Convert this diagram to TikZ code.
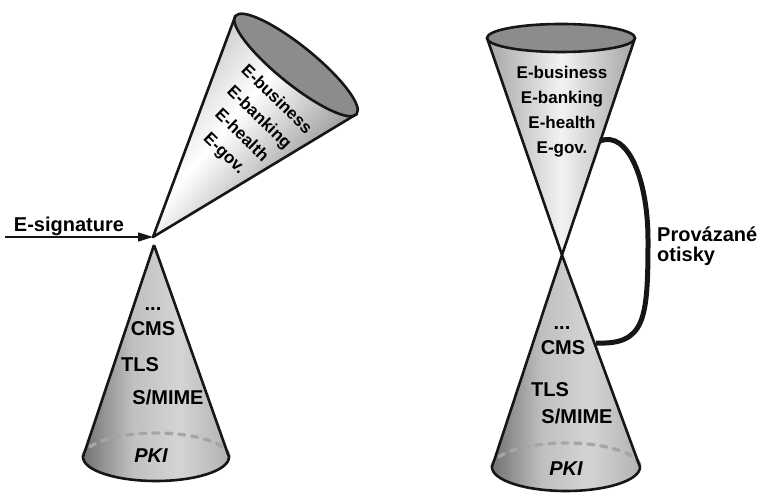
\documentclass[tikz,border=0pt]{standalone}
\usepackage{fontspec}
\setmainfont{Liberation Sans}
\usetikzlibrary{calc,arrows.meta}
\definecolor{inkblack}{RGB}{22,22,22}
\definecolor{rimgray}{RGB}{140,140,140}
\definecolor{backgray}{RGB}{165,165,165}
\definecolor{gdark}{RGB}{115,115,115}
\definecolor{gmid}{RGB}{192,192,192}
\definecolor{glite}{RGB}{212,212,212}
\definecolor{gside}{RGB}{178,178,178}
\definecolor{gpale}{RGB}{165,165,165}
\pgfdeclarehorizontalshading{lowcone}{100bp}{color(0bp)=(gdark); color(25bp)=(gdark);
  color(42bp)=(gmid); color(58bp)=(glite); color(75bp)=(gside); color(100bp)=(gside)}
\pgfdeclarehorizontalshading{topcone}{100bp}{color(0bp)=(gpale); color(25bp)=(gpale);
  color(50bp)=(white!95!black); color(75bp)=(gpale); color(100bp)=(gpale)}
\pgfdeclarehorizontalshading{tiltcone}{100bp}{color(0bp)=(gmid); color(25bp)=(gmid);
  color(45bp)=(white); color(75bp)=(gdark); color(100bp)=(gdark)}
\tikzset{
  cedge/.style={inkblack,line width=2.6pt,line join=round},
  crim/.style={draw=inkblack,fill=rimgray,line width=2.6pt},
  cback/.style={backgray,line width=3.4pt,dash pattern=on 6pt off 7pt,line cap=round},
  clink/.style={inkblack,line width=5pt},
  sigarrow/.style={inkblack,line width=1.4pt,-{Triangle[length=15pt,width=9pt]}},
  ctext/.style={font=\fontsize{20}{24}\selectfont\bfseries,anchor=base,inner sep=0pt},
  etext/.style={font=\fontsize{17}{25}\selectfont\bfseries,align=center,inner sep=0pt},
}
\begin{document}
\begin{tikzpicture}[x=1pt,y=1pt]
  \useasboundingbox (0,0) rectangle (762,495);
  % left: tilted cone
  \coordinate (apexT) at (153,258);
  \coordinate (rimT)  at (296,430);
  \coordinate (rimTa) at ($(rimT)+(141:78)$);
  \coordinate (rimTb) at ($(rimT)+(-39:78)$);
  \shade[shading=tiltcone,shading angle=-40] (apexT) -- (rimTa) -- (rimTb) -- cycle;
  \draw[cedge] (rimTa) -- (apexT) -- (rimTb);
  \draw[crim,rotate around={-39:(rimT)}] (rimT) ellipse [x radius=78,y radius=19];
  \node[etext,rotate=-44] (etl) at (250,368) {E-business\\E-banking\\E-health\\E-gov.};
  % left: lower cone
  \coordinate (apexL) at (154,250);
  \coordinate (baseL) at (156,38);
  \coordinate (baseLa) at ($(baseL)+(-73,0)$);
  \coordinate (baseLb) at ($(baseL)+(73,0)$);
  \shade[shading=lowcone] (apexL) -- (baseLa)
    arc[start angle=180,end angle=360,x radius=73,y radius=24] -- cycle;
  \draw[cback] (baseLa) arc[start angle=180,end angle=0,x radius=73,y radius=24];
  \draw[cedge] (apexL) -- (baseLa)
    arc[start angle=180,end angle=360,x radius=73,y radius=24] -- (apexL);
  \node[ctext] (dotsl) at (153,184) {...};
  \node[ctext] (cmsl)  at (153,159) {CMS};
  \node[ctext] (tlsl)  at (140,123) {TLS};
  \node[ctext] (smil)  at (168,91)  {S/MIME};
  \node[ctext] (pkil)  at (151,33)  {\itshape PKI};
  % e-signature
  \coordinate (sigs) at (5,258);
  \draw[sigarrow] (sigs) -- (apexT);
  \node[ctext] (esig) at (69,263) {E-signature};
  % right: upper cone
  \coordinate (apexR) at (562,240);
  \coordinate (rimR)  at (561,457);
  \coordinate (rimRa) at ($(rimR)+(-74,0)$);
  \coordinate (rimRb) at ($(rimR)+(74,0)$);
  \shade[shading=topcone] (apexR) -- (rimRa) -- (rimRb) -- cycle;
  \draw[cedge] (rimRa) -- (apexR) -- (rimRb);
  \draw[crim] (rimR) ellipse [x radius=74,y radius=14];
  \node[etext] (etr) at (562,383) {E-business\\E-banking\\E-health\\E-gov.};
  % right: lower cone
  \coordinate (baseR) at (566,28);
  \coordinate (baseRa) at ($(baseR)+(-74,0)$);
  \coordinate (baseRb) at ($(baseR)+(74,0)$);
  \shade[shading=lowcone] (apexR) -- (baseRa)
    arc[start angle=180,end angle=360,x radius=74,y radius=24] -- cycle;
  \draw[cback] (baseRa) arc[start angle=180,end angle=0,x radius=74,y radius=24];
  \draw[cedge] (apexR) -- (baseRa)
    arc[start angle=180,end angle=360,x radius=74,y radius=24] -- (apexR);
  \node[ctext] (dotsr) at (562,165) {...};
  \node[ctext] (cmsr)  at (563,140) {CMS};
  \node[ctext] (tlsr)  at (550,98)  {TLS};
  \node[ctext] (smir)  at (577,71)  {S/MIME};
  \node[ctext] (pkir)  at (566,20)  {\itshape PKI};
  % link
  \coordinate (lkA) at (600,354);
  \coordinate (lkB) at (596,152);
  \draw[clink] (lkA) .. controls (628,365) and (648,315) .. (648,255)
    .. controls (648,175) and (645,150) .. (lkB);
  \node[ctext,anchor=base west] (prov) at (657,253) {Provázané};
  \node[ctext,anchor=base west] (otis) at (657,233) {otisky};
\end{tikzpicture}
\end{document}
